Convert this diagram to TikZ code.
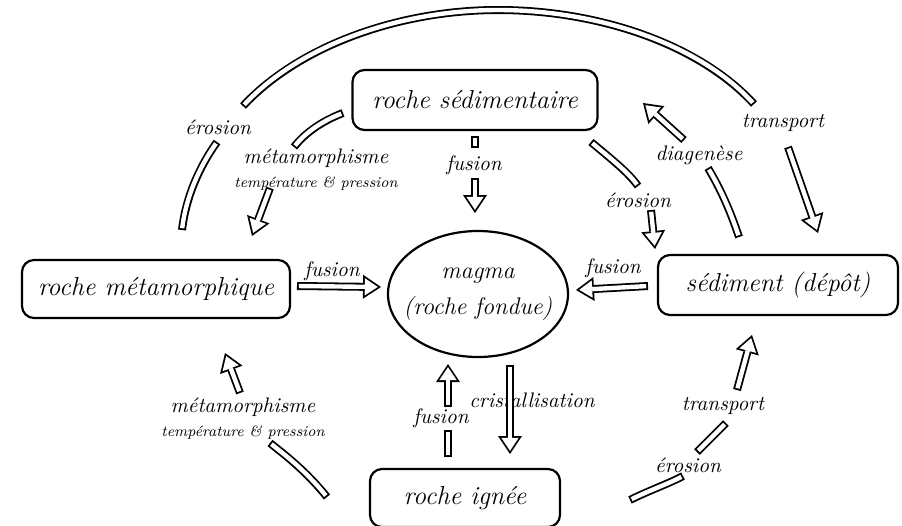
\documentclass[tikz,border=0pt]{standalone}
\usepackage{tikz}
\usetikzlibrary{arrows.meta}
\usetikzlibrary{shapes.geometric}
\tikzset{rock/.style = {draw, line width=1.1pt, rounded corners=6pt, inner sep=0,
    font=\itshape\fontsize{13}{15}\selectfont}}
\tikzset{lbl/.style = {inner sep=0, align=center, font=\itshape\fontsize{10.5}{12}\selectfont}}
\tikzset{fatline/.style = {line width=4pt,
    postaction={draw=white, line width=2.2pt, shorten <=0.9pt, shorten >=0.9pt}}}
\tikzset{fat/.style = {line width=4pt, -{Triangle[width=12pt, length=9pt, line width=0pt]},
    postaction={draw=white, line width=2.2pt, shorten <=0.9pt, shorten >=1.62pt,
      -{Triangle[width=8.64pt, length=6.48pt, line width=0pt]}}}}
\newcommand{\subtxt}[1]{{\fontsize{7.5}{9}\selectfont #1}}

\begin{document}
\begin{tikzpicture}[x=0.5pt, y=-0.5pt]
          \useasboundingbox (0,0) rectangle (902,526);

          % rocks and magma
          \node [rock, minimum width=122.5pt, minimum height=30pt] (sedr) at (475,100) {roche sédimentaire};
          \node [rock, minimum width=134pt, minimum height=29pt] (meta) at (156,289) {roche métamorphique};
          \node [rock, minimum width=120pt, minimum height=30pt] (sedi) at (778,285) {sédiment (dépôt)};
          \node [rock, minimum width=95pt, minimum height=29pt] (ign) at (465,498) {roche ignée};
          \node [draw, ellipse, line width=1.1pt, inner xsep=-9pt, inner ysep=0pt, minimum width=90pt,
                 minimum height=63pt, align=center, font=\itshape\fontsize{12}{18}\selectfont]
                (magma) at (478,294) {magma\\(roche fondue)};

          % labels
          \node [lbl] (ero1) at (218,127) {érosion};
          \node [lbl] (tra1) at (783,123) {transport};
          \node [lbl] (met1) at (316,170) {métamorphisme\\\subtxt{température \& pression}};
          \node [lbl] (fus1) at (474,165) {fusion};
          \node [lbl] (ero2) at (638,200) {érosion};
          \node [lbl] (dia) at (699,155) {diagenèse};
          \node [lbl] (fus2) at (332,271) {fusion};
          \node [lbl] (fus3) at (613,268) {fusion};
          \node [lbl] (fus4) at (441,418) {fusion};
          \node [lbl] (cri) at (532,400) {cristallisation};
          \node [lbl] (met2) at (243,419) {métamorphisme\\\subtxt{température \& pression}};
          \node [lbl] (ero3) at (688,465) {érosion};
          \node [lbl] (tra2) at (723,406) {transport};

          % big arc over the top
          \coordinate (a1) at (182,230); \coordinate (a2) at (217,142);
          \coordinate (a3) at (243,106); \coordinate (a4) at (754,104);
          \coordinate (a5) at (788,147); \coordinate (a6) at (818,233);
          \draw [fatline] (a1) .. controls (186,196) and (200,166) .. (a2);
          \draw [fatline] (a3) .. controls (300,45) and (400,10) .. (498,10)
                               .. controls (600,10) and (700,45) .. (a4);
          \draw [fat] (a5) -- (a6);

          % sedimentary rock
          \coordinate (b1) at (343,113); \coordinate (b2) at (294,147);
          \coordinate (b3) at (270,188); \coordinate (b4) at (252,236);
          \draw [fatline] (b1) .. controls (322,121) and (305,133) .. (b2);
          \draw [fat] (b3) -- (b4);
          \coordinate (c1) at (475,136); \coordinate (c2) at (475,148);
          \coordinate (c3) at (475,178); \coordinate (c4) at (475,213);
          \draw [fatline] (c1) -- (c2);
          \draw [fat] (c3) -- (c4);
          \coordinate (d1) at (591,142); \coordinate (d2) at (638,186);
          \coordinate (d3) at (651,210); \coordinate (d4) at (655,249);
          \draw [fatline] (d1) .. controls (610,158) and (628,172) .. (d2);
          \draw [fat] (d3) -- (d4);

          % sediment
          \coordinate (e1) at (739,237); \coordinate (e2) at (708,168);
          \coordinate (e3) at (684,140); \coordinate (e4) at (643,103);
          \draw [fatline] (e1) .. controls (730,210) and (720,188) .. (e2);
          \draw [fat] (e3) -- (e4);
          \coordinate (g1) at (648,286); \coordinate (g2) at (576,290);
          \draw [fat] (g1) -- (g2);

          % metamorphic rock
          \coordinate (f1) at (297,286); \coordinate (f2) at (381,287);
          \draw [fat] (f1) -- (f2);

          % igneous rock and magma
          \coordinate (h1) at (448,457); \coordinate (h2) at (448,430);
          \coordinate (h3) at (448,407); \coordinate (h4) at (448,364);
          \draw [fatline] (h1) -- (h2);
          \draw [fat] (h3) -- (h4);
          \coordinate (i1) at (510,365); \coordinate (i2) at (510,454);
          \draw [fat] (i1) -- (i2);
          \coordinate (j1) at (327,497); \coordinate (j2) at (270,443);
          \coordinate (j3) at (240,393); \coordinate (j4) at (225,353);
          \draw [fatline] (j1) .. controls (305,470) and (285,455) .. (j2);
          \draw [fat] (j3) -- (j4);
          \coordinate (k1) at (630,500); \coordinate (k2) at (683,476);
          \coordinate (k3) at (697,452); \coordinate (k4) at (726,423);
          \coordinate (k5) at (737,390); \coordinate (k6) at (752,335);
          \draw [fatline] (k1) .. controls (650,490) and (668,484) .. (k2);
          \draw [fatline] (k3) -- (k4);
          \draw [fat] (k5) -- (k6);
        \end{tikzpicture}
\end{document}
